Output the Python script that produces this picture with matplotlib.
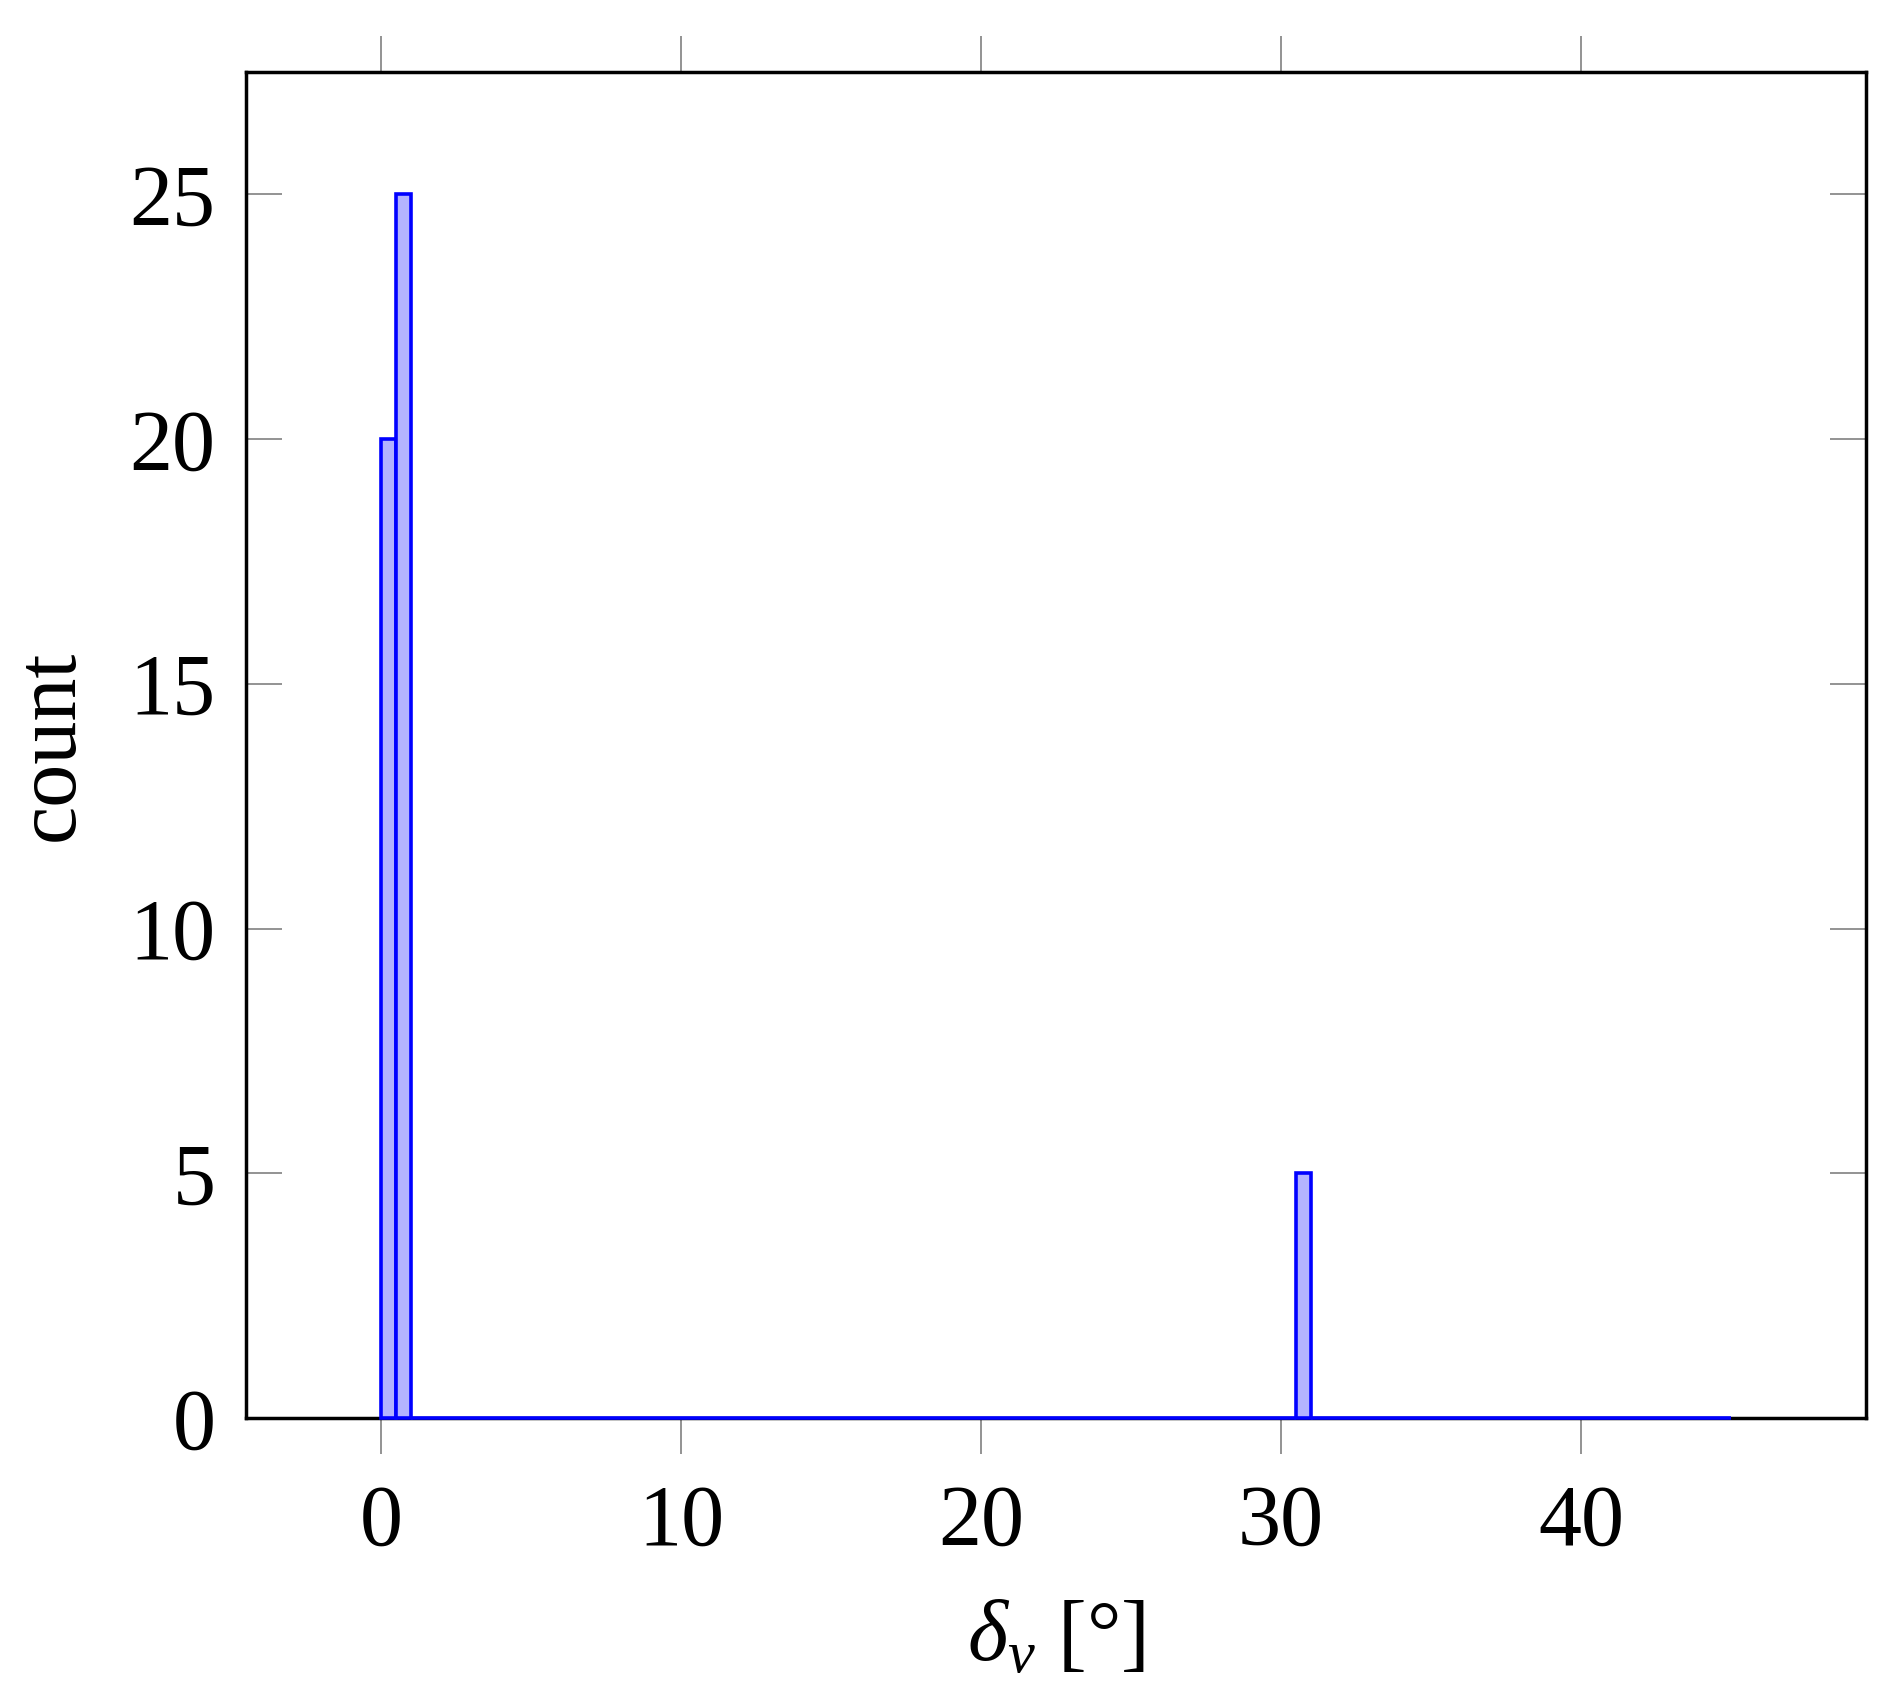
import numpy as np
import matplotlib
matplotlib.use("Agg")
import matplotlib.pyplot as plt

# ── data ─────────────────────────────────────────────────────────
bin_width = 0.5
x_min, x_max = 0.0, 45.0
# only the non-empty bins (left edge -> count)
bin_starts = [0.0, 0.5, 30.5]
bin_counts = [20, 25, 5]

x_ticks = [0, 10, 20, 30, 40]
y_ticks = [0, 5, 10, 15, 20, 25]
x_label = r"$\delta_v$ [°]"
y_label = "count"

# full histogram (every bin, empty ones drawn flat on the baseline)
edges = np.arange(x_min, x_max, bin_width)
counts = np.zeros(len(edges))
for s, c in zip(bin_starts, bin_counts):
    counts[int(round((s - x_min) / bin_width))] = c

# ── style ────────────────────────────────────────────────────────
plt.rcParams["font.family"] = ["Liberation Serif", "DejaVu Serif"]
plt.rcParams["mathtext.fontset"] = "custom"
plt.rcParams["mathtext.rm"] = "Liberation Serif"
plt.rcParams["mathtext.it"] = "Liberation Serif:italic"
plt.rcParams["font.size"] = 31

fig = plt.figure(figsize=(9.52, 8.52), dpi=200)
ax = fig.add_axes([0.1292, 0.1679, 0.8508, 0.7898])

ax.bar(edges, counts, width=bin_width, align="edge",
       facecolor=(0.7, 0.7, 1.0), edgecolor=(0, 0, 1), linewidth=1.3,
       zorder=3, clip_on=False)

ax.set_xlim(-4.5, 49.5)
ax.set_ylim(0, 27.5)
ax.set_xticks(x_ticks)
ax.set_yticks(y_ticks)

for sp in ax.spines.values():
    sp.set_linewidth(1.25)
    sp.set_zorder(2)

ax.tick_params(axis="x", direction="out", top=True, bottom=True,
               length=13, width=0.6, color="gray", pad=11)
ax.tick_params(axis="y", direction="in", left=True, right=True,
               length=13, width=0.6, color="gray", pad=11)

ax.set_xlabel(x_label)
ax.set_ylabel(y_label)
ax.xaxis.label.set_va("center")
ax.yaxis.label.set_va("center")
ax.xaxis.set_label_coords(0.5, -0.165)
ax.yaxis.set_label_coords(-0.12, 0.5)

fig.savefig("out.png", dpi=200)
